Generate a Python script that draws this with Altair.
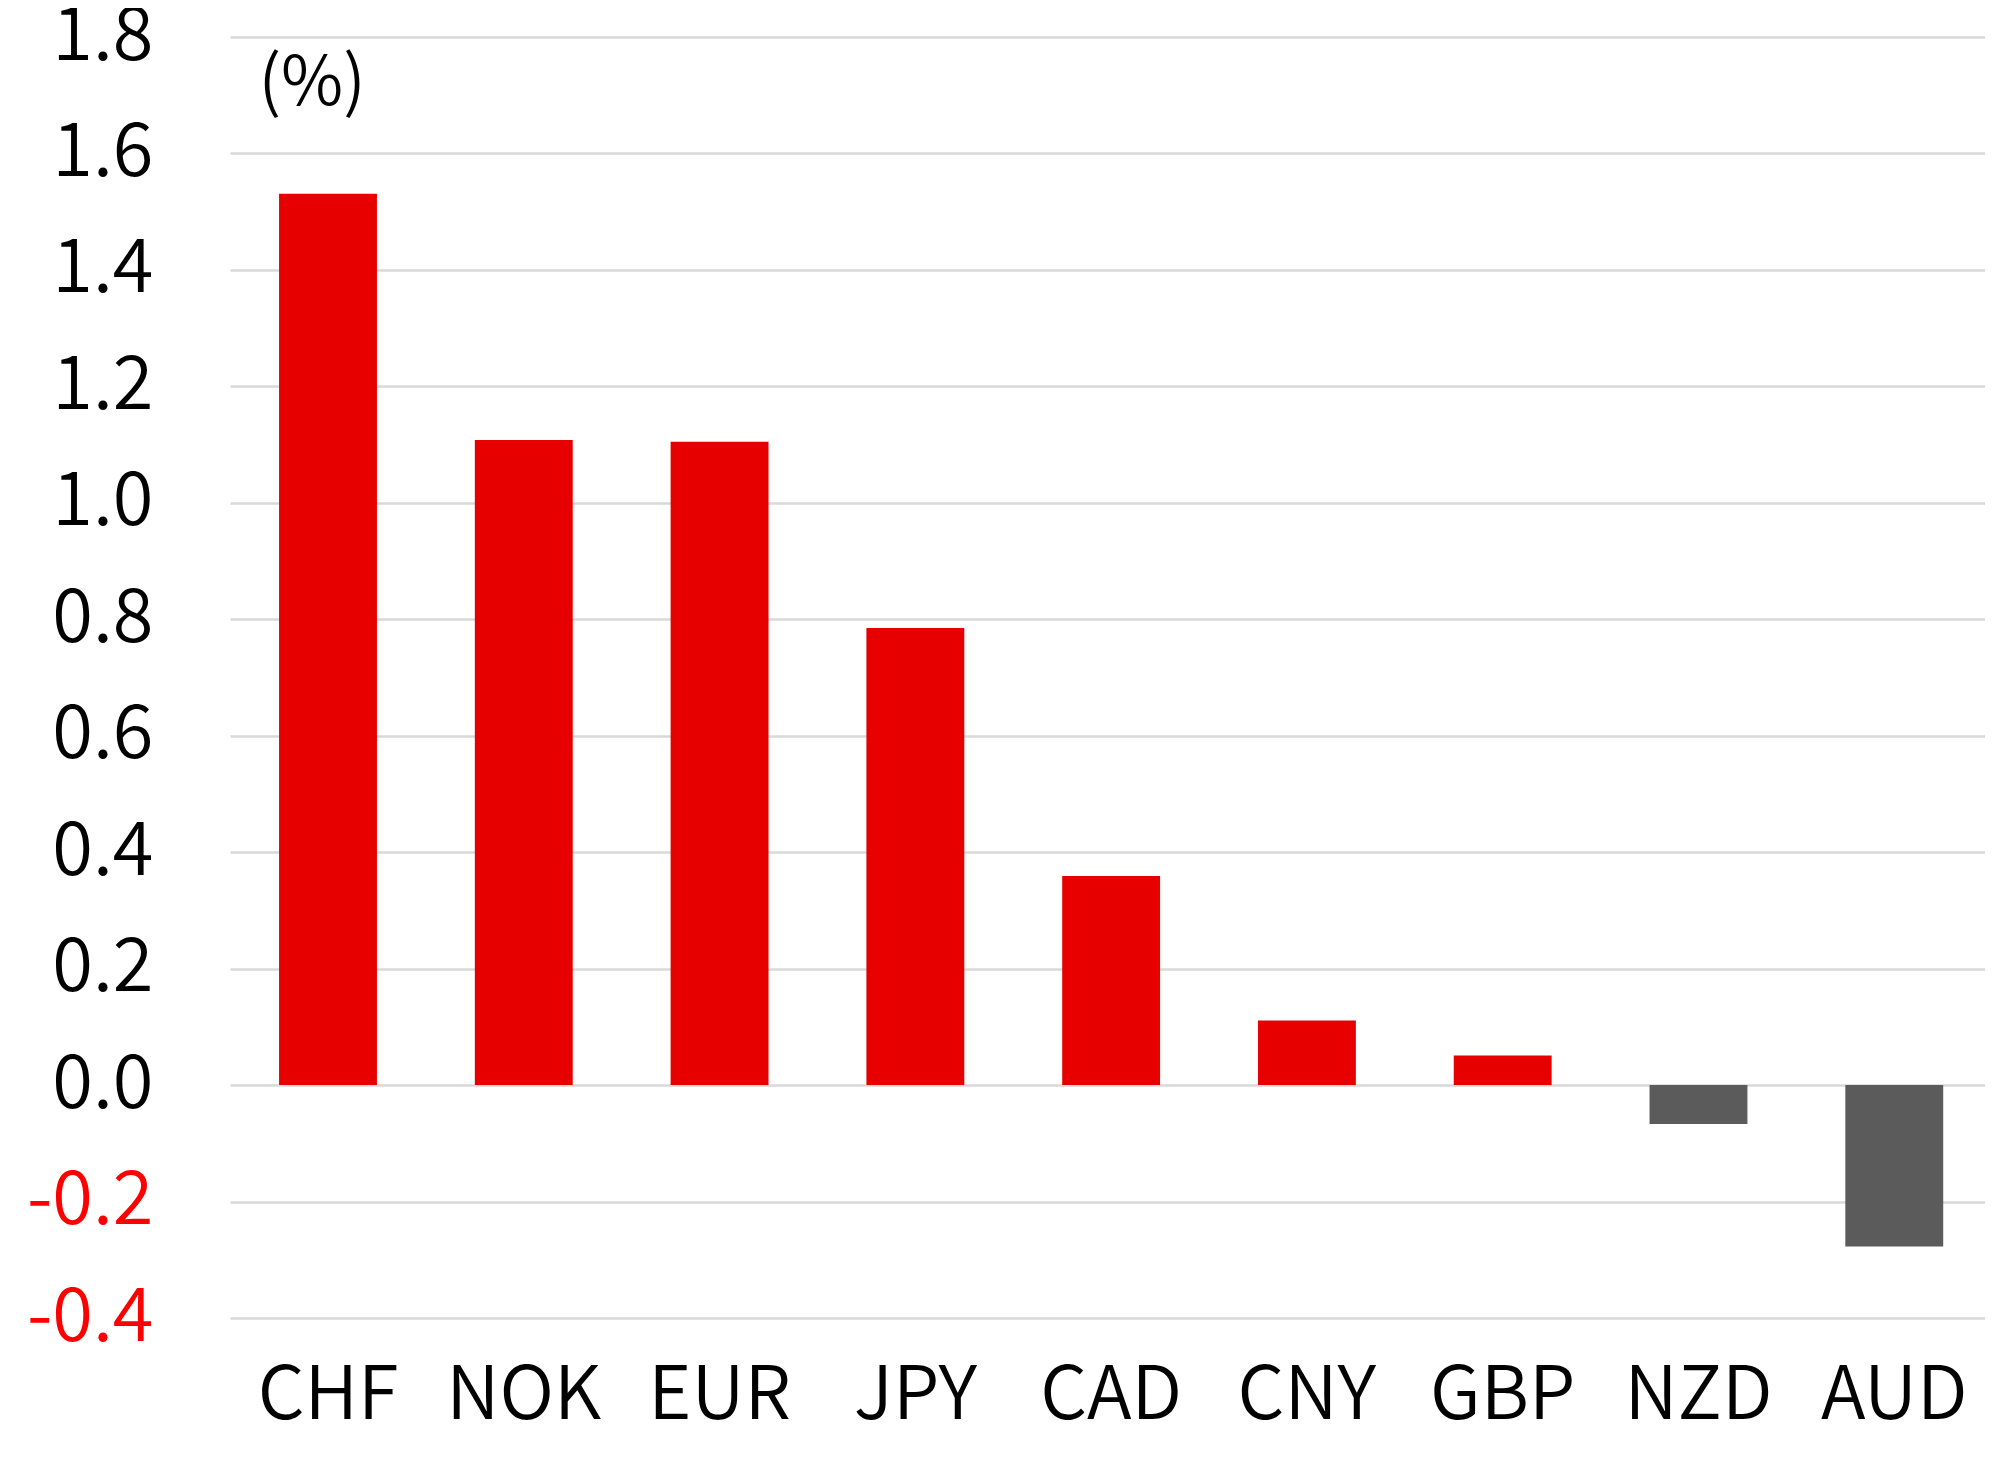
import altair as alt
import pandas as pd

currencies = ["CHF", "NOK", "EUR", "JPY", "CAD", "CNY", "GBP", "NZD", "AUD"]
values = [1.531, 1.108, 1.105, 0.785, 0.359, 0.111, 0.051, -0.067, -0.277]
y_ticks = [-0.4, -0.2, 0.0, 0.2, 0.4, 0.6, 0.8, 1.0, 1.2, 1.4, 1.6, 1.8]
unit_label = "(%)"

df = pd.DataFrame({"currency": currencies, "value": values})

FONT = "'Noto Sans CJK JP DemiLight', 'Noto Sans CJK JP'"
WEIGHT = "normal"

chart = (
    alt.Chart(df)
    .mark_bar()
    .encode(
        x=alt.X(
            "currency:N",
            sort=currencies,
            scale=alt.Scale(paddingInner=0.5, paddingOuter=0.232, align=0.54),
            axis=alt.Axis(
                title=None,
                labelAngle=0,
                labelFont=FONT,
                labelFontSize=74,
                labelFontWeight=WEIGHT,
                labelColor="#000000",
                labelPadding=42,
                ticks=False,
                tickSize=0,
                domain=False,
                grid=False,
            ),
        ),
        y=alt.Y(
            "value:Q",
            scale=alt.Scale(domain=[-0.4, 1.8], nice=False, zero=False),
            axis=alt.Axis(
                title=unit_label,
                titleAngle=0,
                titleX=28,
                titleY=47,
                titleAlign="left",
                titleBaseline="middle",
                titleFont=FONT,
                titleFontSize=68,
                titleFontWeight=WEIGHT,
                titleColor="#000000",
                values=y_ticks,
                labelExpr="(datum.value < 0 ? '-' : '') + format(abs(datum.value), '.1f')",
                labelFont=FONT,
                labelFontSize=74,
                labelFontWeight=WEIGHT,
                labelColor={"condition": {"test": "datum.value < 0", "value": "#FF0000"}, "value": "#000000"},
                labelPadding=77,
                ticks=False,
                tickSize=0,
                domain=False,
                grid=True,
                gridColor="#D9D9D9",
                gridWidth=2.5,
            ),
        ),
        color=alt.condition("datum.value > 0", alt.value("#E60000"), alt.value("#5B5B5B")),
    )
    .properties(
        width=1755,
        height=1281,
        background="#FFFFFF",
        autosize=alt.AutoSizeParams(type="none"),
        padding={"left": 222, "top": 29, "right": 0, "bottom": 125},
    )
    .configure_view(stroke="transparent", strokeWidth=0)
)

chart.save("out.html", embed_options={"renderer": "svg", "actions": False})
